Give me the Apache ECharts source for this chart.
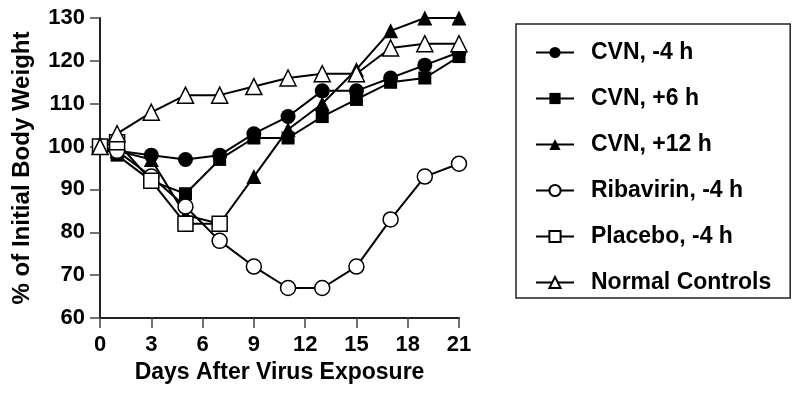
<!DOCTYPE html>
<html>
<head>
<meta charset="utf-8">
<script src="https://cdn.jsdelivr.net/npm/echarts@6/dist/echarts.min.js"></script>
<style>
  html, body { margin: 0; padding: 0; background: #fff; }
  #chart { width: 800px; height: 402px; }
</style>
</head>
<body>
<div id="chart"></div>
<script>
const days = [0, 1, 3, 5, 7, 9, 11, 13, 15, 17, 19, 21]
const placeboDays = [0, 1, 3, 5, 7]

const cvnMinus4 = [100, 99, 98, 97, 98, 103, 107, 113, 113, 116, 119, 122]
const cvnPlus6 = [100, 98, 92, 89, 97, 102, 102, 107, 111, 115, 116, 121]
const cvnPlus12 = [100, 99, 97, 84, 82, 93, 104, 110, 118, 127, 130, 130]
const ribavirin = [100, 99, 93, 86, 78, 72, 67, 67, 72, 83, 93, 96]
const placebo = [100, 101, 92, 82, 82]
const normalControls = [100, 103, 108, 112, 112, 114, 116, 117, 117, 123, 124, 124]

const seriesNames = ['CVN, -4 h', 'CVN, +6 h', 'CVN, +12 h', 'Ribavirin, -4 h', 'Placebo, -4 h', 'Normal Controls']
const xTicks = [0, 3, 6, 9, 12, 15, 18, 21]
const yTicks = [60, 70, 80, 90, 100, 110, 120, 130]

const FONT = '"Liberation Sans", Arial, Helvetica, sans-serif'

function pairs(xs, ys) {
  return ys.map((y, i) => [xs[i], y])
}

function makeSeries(name, xs, ys, symbol, size, filled) {
  return {
    name: name,
    type: 'line',
    data: pairs(xs, ys),
    symbol: symbol,
    symbolSize: size,
    showAllSymbol: true,
    lineStyle: { color: '#000', width: 2 },
    itemStyle: {
      color: filled ? '#000' : '#fff',
      borderColor: '#000',
      borderWidth: filled ? 0 : 1.5,
      opacity: 1
    },
    emphasis: { disabled: true },
    animation: false
  }
}

const chart = echarts.init(document.getElementById('chart'))

chart.setOption({
  backgroundColor: '#fff',
  animation: false,
  grid: { left: 100, right: 341, top: 18, bottom: 84 },
  xAxis: {
    type: 'value',
    min: xTicks[0],
    max: xTicks[xTicks.length - 1],
    interval: 3,
    name: 'Days After Virus Exposure',
    nameLocation: 'middle',
    nameGap: 42,
    nameTextStyle: { color: '#000', fontFamily: FONT, fontWeight: 'bold', fontSize: 23 },
    axisLine: { lineStyle: { color: '#222', width: 2 } },
    axisTick: { inside: false, length: 10, lineStyle: { color: '#444', width: 1.5 } },
    axisLabel: { color: '#000', fontFamily: FONT, fontWeight: 'bold', fontSize: 22, margin: 16 },
    splitLine: { show: false }
  },
  yAxis: {
    type: 'value',
    min: yTicks[0],
    max: yTicks[yTicks.length - 1],
    interval: 10,
    name: '% of Initial Body Weight',
    nameLocation: 'middle',
    nameGap: 66,
    nameTextStyle: { color: '#000', fontFamily: FONT, fontWeight: 'bold', fontSize: 24 },
    axisLine: { show: true, lineStyle: { color: '#222', width: 2 } },
    axisTick: { show: true, inside: false, length: 10, lineStyle: { color: '#444', width: 1.5 } },
    axisLabel: { color: '#000', fontFamily: FONT, fontWeight: 'bold', fontSize: 22, margin: 15 },
    splitLine: { show: false }
  },
  legend: {
    orient: 'vertical',
    left: 516,
    top: 24,
    padding: [17, 19, 4, 19],
    itemWidth: 38,
    itemHeight: 14,
    itemGap: 23,
    borderColor: '#222',
    borderWidth: 1.5,
    data: seriesNames,
    textStyle: { color: '#000', fontFamily: FONT, fontWeight: 'bold', fontSize: 23, padding: [0, 0, 0, 12] }
  },
  series: [
    makeSeries(seriesNames[0], days, cvnMinus4, 'circle', 15, true),
    makeSeries(seriesNames[1], days, cvnPlus6, 'rect', 13, true),
    makeSeries(seriesNames[2], days, cvnPlus12, 'triangle', 15, true),
    makeSeries(seriesNames[3], days, ribavirin, 'circle', 15, false),
    makeSeries(seriesNames[4], placeboDays, placebo, 'rect', 15, false),
    makeSeries(seriesNames[5], days, normalControls, 'triangle', 16, false)
  ]
})
</script>
</body>
</html>
